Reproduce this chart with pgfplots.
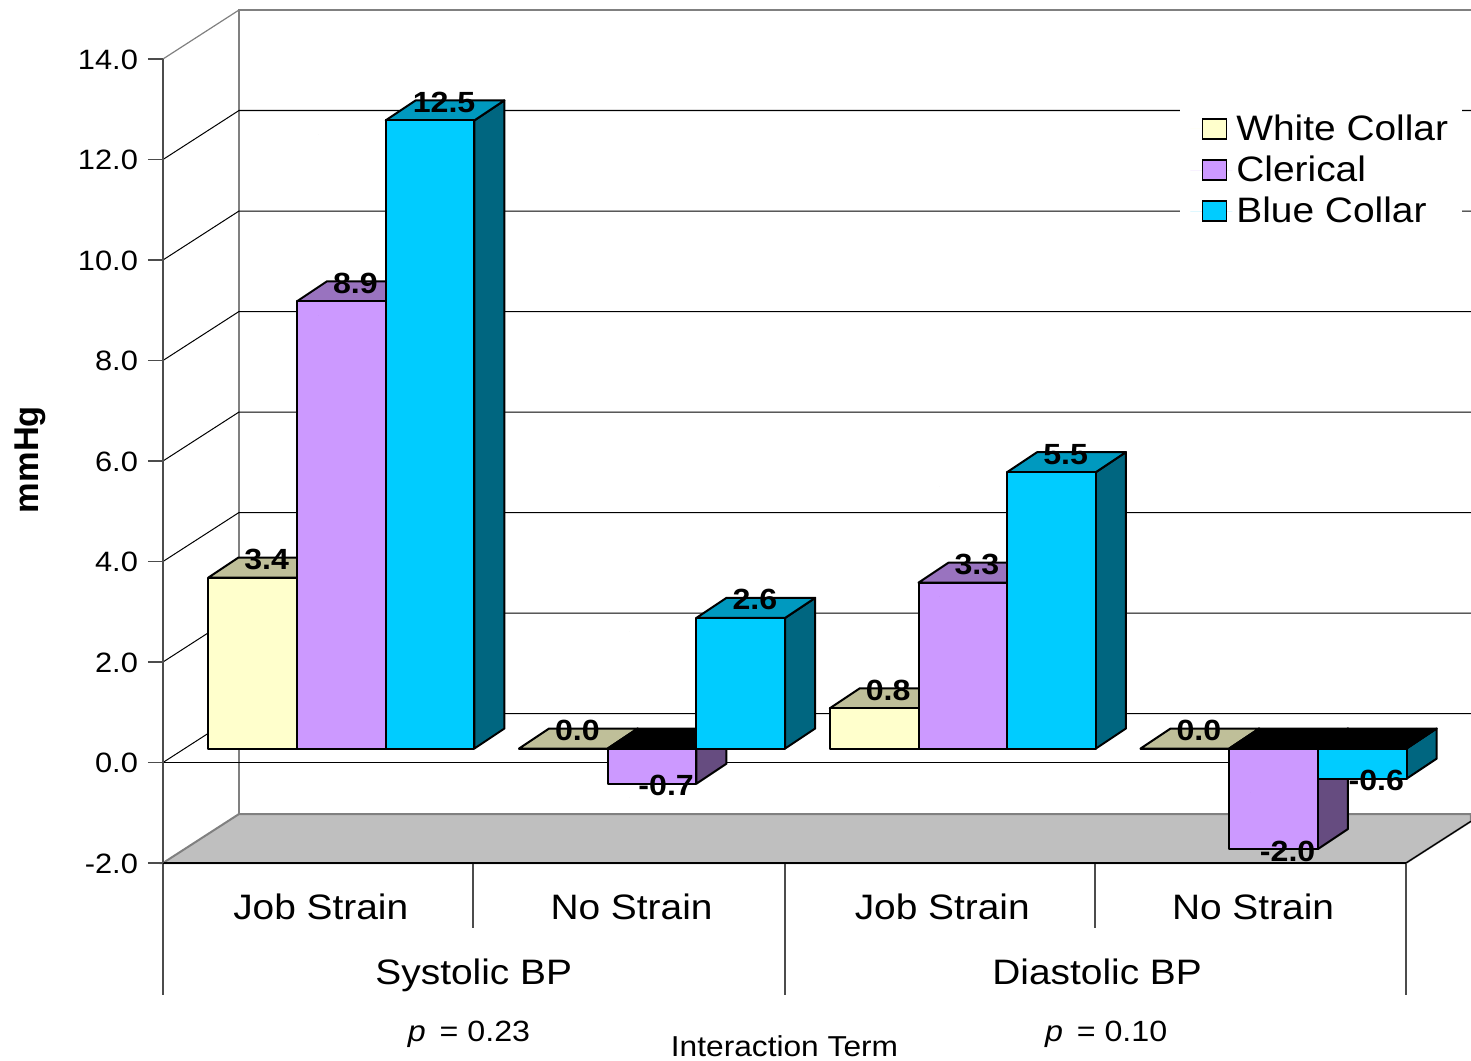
\documentclass[border=0pt]{standalone}
\usepackage{fontspec}
\setmainfont[FakeStretch=1.1]{Liberation Sans}
\newfontfamily\ylabfont{Liberation Sans}
\usepackage{pgfplots}
\pgfplotsset{compat=1.18}

% scale of the picture: 1 reference pixel = 0.5pt
\definecolor{whiteF}{HTML}{FFFFCC}
\definecolor{whiteT}{HTML}{BFBF99}
\definecolor{clerF}{HTML}{CC99FF}
\definecolor{clerT}{HTML}{9973BF}
\definecolor{clerS}{HTML}{664C80}
\definecolor{blueF}{HTML}{00CCFF}
\definecolor{blueT}{HTML}{0099BF}
\definecolor{blueS}{HTML}{006680}
\definecolor{whiteS}{HTML}{808066}

% one 3D bar around the current plot point, #4 = shift of the series in pt
\newcommand\drawbar[4]{%
  \pgfmathsetmacro\hh{\barval*25.125}%
  \pgfmathsetmacro\xl{#4-22.175}%
  \pgfmathsetmacro\xr{#4+22.175}%
  \pgfmathsetmacro\yv{7}%
  \pgfmathsetmacro\yb{7-\hh}%
  \pgfmathsetmacro\yt{max(\yv,\yb)}%
  \pgfmathsetmacro\ylo{min(\yv,\yb)}%
  \pgfmathsetmacro\xrr{\xr+15}%
  \pgfmathsetmacro\xll{\xl+15}%
  \pgfmathsetmacro\yyt{\yt+10}%
  \pgfmathsetmacro\yyl{\ylo+10}%
  \path[draw=black,line width=1pt,line join=round,fill=#3]
    (\xr pt,\yt pt) -- (\xrr pt,\yyt pt) -- (\xrr pt,\yyl pt) -- (\xr pt,\ylo pt) -- cycle;
  \ifdim\hh pt<0pt
    \path[draw=black,line width=1pt,line join=round,fill=black]
      (\xl pt,\yt pt) -- (\xll pt,\yyt pt) -- (\xrr pt,\yyt pt) -- (\xr pt,\yt pt) -- cycle;
  \else
    \path[draw=black,line width=1pt,line join=round,fill=#2]
      (\xl pt,\yt pt) -- (\xll pt,\yyt pt) -- (\xrr pt,\yyt pt) -- (\xr pt,\yt pt) -- cycle;
  \fi
  \path[draw=black,line width=1pt,line join=round,fill=#1]
    (\xl pt,\ylo pt) rectangle (\xr pt,\yt pt);
  \pgfmathsetmacro\lx{#4+7}%
  \ifdim\hh pt<0pt
    \def\ly{6}%
  \else
    \def\ly{16}%
  \fi
  \node[inner sep=0pt,font=\fontsize{14.6}{17}\selectfont\bfseries] at (\lx pt,\ly pt)
    {\pgfmathprintnumber[fixed,fixed zerofill,precision=1,assume math mode=true]{\barval}};
}

\pgfplotsset{
  bar3d/.style n args={4}{
    forget plot,
    scatter, only marks, mark=*, mark size=0pt,
    visualization depends on=rawy \as \barval,
    scatter/@pre marker code/.code={\drawbar{#1}{#2}{#3}{#4}\scope[draw=none,fill=none]},
    scatter/@post marker code/.code={\endscope},
  },
}

\begin{document}
\begin{tikzpicture}
\useasboundingbox (-81.5pt,-98.5pt) rectangle (654pt,431.5pt);
\begin{axis}[
    scale only axis,
    width=621.5pt, height=402pt,
    xmin=0, xmax=4,
    ymin=-2, ymax=14,
    clip=false,
    axis on top,
    axis x line=bottom,
    axis y line=left,
    axis line style={-, line width=1pt, color=black!70},
    x axis line style={color=black},
    tick align=outside,
    major tick length=7.5pt,
    xtick={0.5,1.5,2.5,3.5},
    xticklabels={Job Strain,No Strain,Job Strain,No Strain},
    xtick style={draw=none},
    xticklabel style={font=\fontsize{17.67}{20}\selectfont, yshift=-4.5pt, xshift=1.2pt},
    ytick={-2,0,...,14},
    ytick style={color=black!70, line width=0.6pt},
    yticklabel style={font=\fontsize{14}{16}\selectfont, xshift=-1.5pt, yshift=-0.4pt, /pgf/number format/.cd, fixed, fixed zerofill, precision=1, assume math mode=true},
    ylabel={\ylabfont\bfseries\fontsize{17.2}{20}\selectfont mmHg},
    every axis y label/.style={at={(axis cs:-0.428,6.03)}, rotate=90, anchor=center},
    legend style={at={(axis cs:3.2727,13.10)}, anchor=north west, draw=none, fill=white,
      inner xsep=5pt, inner ysep=3pt, row sep=2.25pt,
      font=\fontsize{17.67}{20}\selectfont, cells={anchor=west}},
    legend image code/.code={\path[draw=none] (0pt,0pt) -- (21pt,0pt); \draw[#1] (6pt,-5pt) rectangle (18pt,5pt);},
]
% walls and floor
\path[fill=black!25, draw=black!50, line width=1pt]
  (axis cs:0,-2) -- (axis cs:0.2446,-1.025) -- (axis cs:4.209,-1.025) -- (axis cs:4.209,-1.17) -- (axis cs:4,-2) -- cycle;
\draw[black, line width=0.6pt] (axis cs:4,-2) -- (axis cs:4.209,-1.17);
\draw[black!50, line width=1pt] (axis cs:0.2446,-1.025) -- (axis cs:0.2446,14.975) -- (axis cs:4.209,14.975);
\draw[black!50, line width=0.6pt] (axis cs:0,14) -- (axis cs:0.2446,14.975);
\pgfplotsinvokeforeach{0,2,...,12}{
  \draw[black, line width=0.5pt] (axis cs:0,#1) -- (axis cs:0.2446,#1+0.975) -- (axis cs:4.209,#1+0.975);
}

% category separators and lower labels
\draw[black!70, line width=0.6pt] (axis cs:0,-2) -- (axis cs:0,-4.617);
\draw[black!70, line width=0.6pt] (axis cs:0.9976,-2) -- (axis cs:0.9976,-3.284);
\draw[black!70, line width=0.6pt] (axis cs:2.0016,-2) -- (axis cs:2.0016,-4.617);
\draw[black!70, line width=0.6pt] (axis cs:2.999,-2) -- (axis cs:2.999,-3.284);
\draw[black!70, line width=0.6pt] (axis cs:4,-2) -- (axis cs:4,-4.617);
\node[anchor=base, font=\fontsize{17.67}{20}\selectfont] at (axis cs:1,-4.42) {Systolic BP};
\node[anchor=base, font=\fontsize{17.67}{20}\selectfont] at (axis cs:3.006,-4.42) {Diastolic BP};
\node[font=\fontsize{14.64}{17}\selectfont] at (axis cs:0.985,-5.41) {\textit{p} \,= 0.23};
\node[font=\fontsize{14.64}{17}\selectfont] at (axis cs:3.035,-5.41) {\textit{p} \,= 0.10};
\node[anchor=base, inner sep=0pt, font=\fontsize{14.4}{16}\selectfont] at (axis cs:2,-5.85) {Interaction Term};

% bars
\addplot[bar3d={whiteF}{whiteT}{whiteS}{-32.85}] coordinates {
  (0.5,3.4) (1.5,0.0) (2.5,0.8) (3.5,0.0)
};
\addplot[bar3d={clerF}{clerT}{clerS}{11.5}] coordinates {
  (0.5,8.9) (1.5,-0.7) (2.5,3.3) (3.5,-2.0)
};
\addplot[bar3d={blueF}{blueT}{blueS}{55.85}] coordinates {
  (0.5,12.5) (1.5,2.6) (2.5,5.5) (3.5,-0.6)
};

% the zero line runs over the bars that hang below it
\draw[black, line width=0.6pt] (axis cs:0,0) -- (axis cs:4,0);

\addlegendimage{fill=whiteF, draw=black, line width=0.8pt}
\addlegendentry{White Collar}
\addlegendimage{fill=clerF, draw=black, line width=0.8pt}
\addlegendentry{Clerical}
\addlegendimage{fill=blueF, draw=black, line width=0.8pt}
\addlegendentry{Blue Collar}
\end{axis}
\end{tikzpicture}
\end{document}
